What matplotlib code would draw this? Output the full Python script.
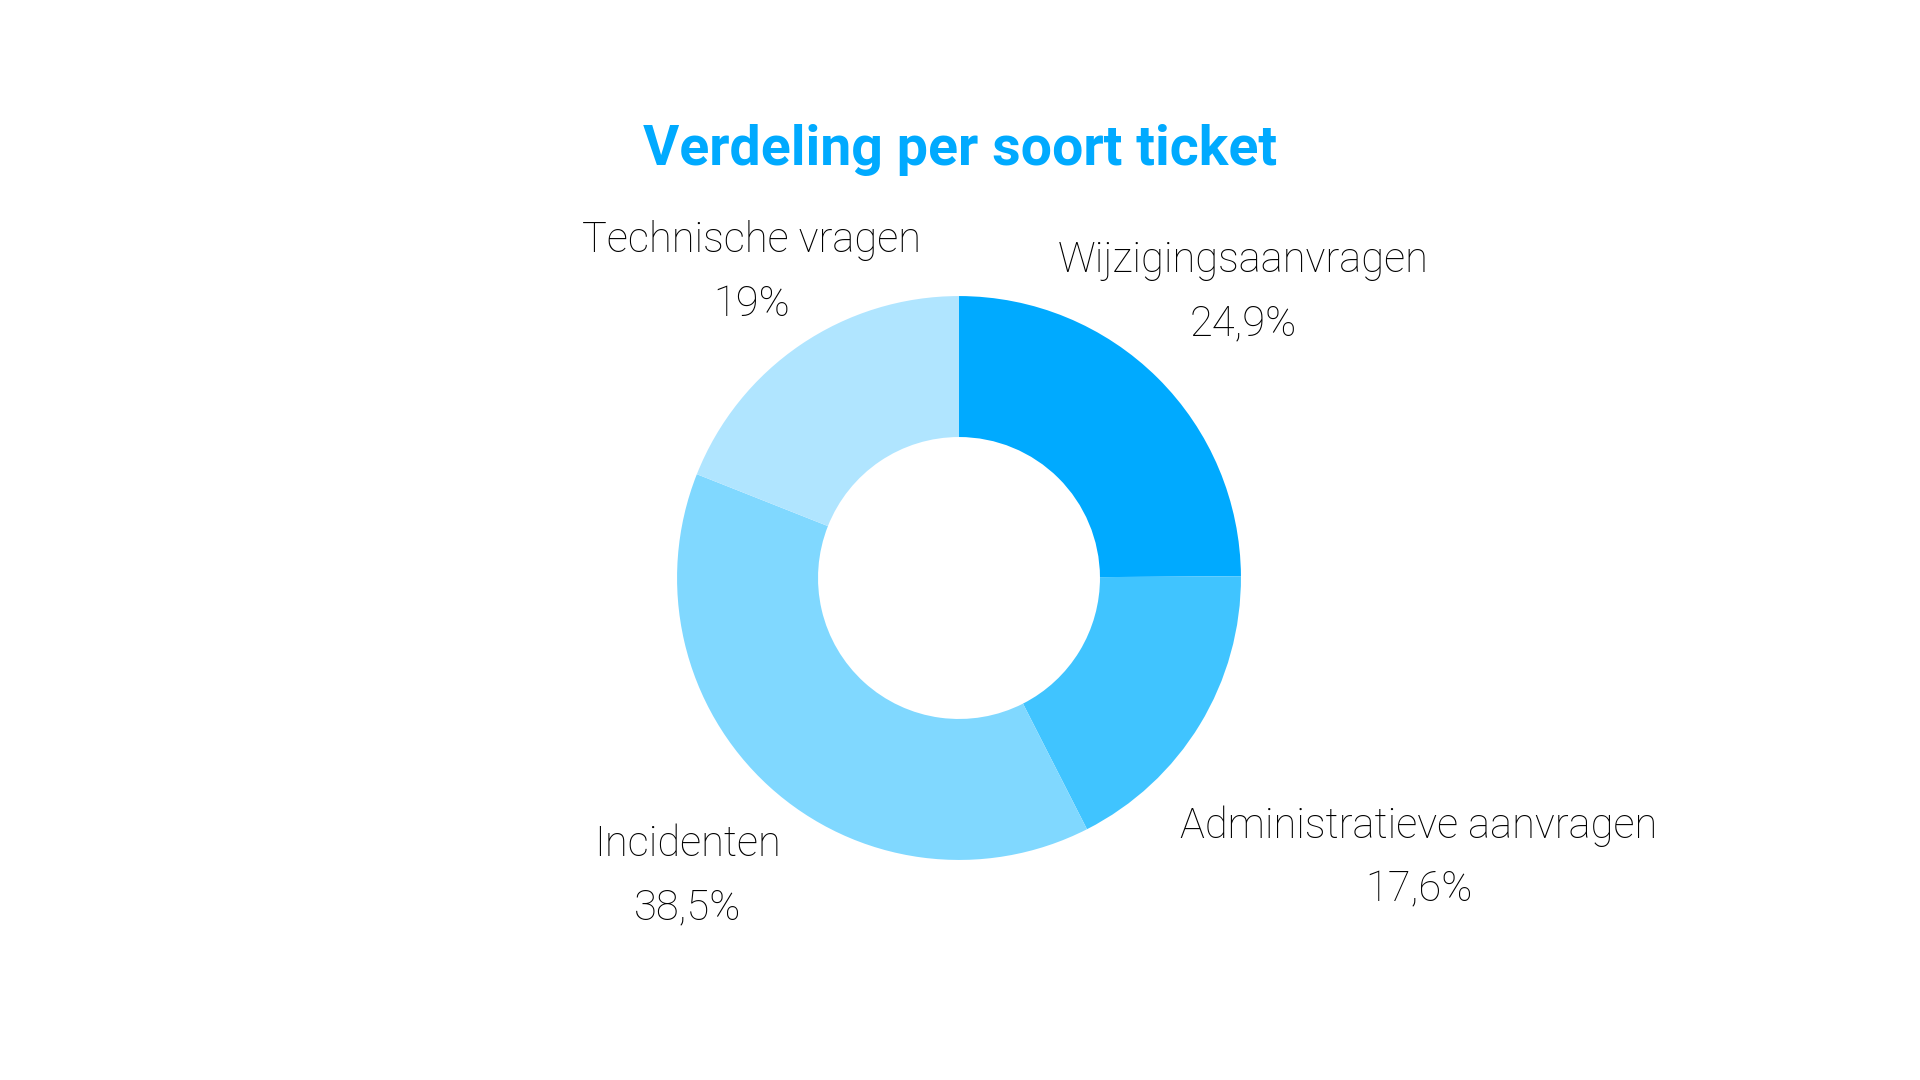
import matplotlib

matplotlib.use("Agg")
import matplotlib.pyplot as plt
import numpy as np

# Ticket share per type (percent), clockwise from 12 o'clock
categories = ["Wijzigingsaanvragen", "Administratieve aanvragen", "Incidenten", "Technische vragen"]
shares = [24.9, 17.6, 38.5, 19.0]
share_labels = ["24,9%", "17,6%", "38,5%", "19%"]
colors = ["#00AAFF", "#40C4FF", "#80D8FF", "#B0E5FF"]
label_dist = [1.43, 1.91, 1.43, 1.31]

fig = plt.figure(figsize=(19.2, 10.8), dpi=100)
fig.patch.set_facecolor("white")

# square axes centred on the donut (outer radius ~282 px)
size = 1015
cx, cy = 959, 578
ax = fig.add_axes([(cx - size / 2) / 1920, (1080 - cy - size / 2) / 1080, size / 1920, size / 1080])

wedges, _ = ax.pie(
    shares,
    colors=colors,
    startangle=90,
    counterclock=False,
    radius=1.0,
    wedgeprops=dict(width=0.5, edgecolor="none", linewidth=0),
)
ax.set_xlim(-1.8, 1.8)
ax.set_ylim(-1.8, 1.8)
ax.set_aspect("equal")
ax.axis("off")

for w, name, pct, d in zip(wedges, categories, share_labels, label_dist):
    mid = np.deg2rad((w.theta1 + w.theta2) / 2)
    x, y = d * np.cos(mid), d * np.sin(mid)
    ax.text(
        x, y, f"{name}\n{pct}",
        ha="center", va="center",
        fontsize=30, family="Roboto", fontweight="light",
        color="#000000", linespacing=1.7, clip_on=False,
    )

fig.text(
    0.5, 1 - 150 / 1080, "Verdeling per soort ticket",
    ha="center", va="center",
    fontsize=40, family="Roboto", fontweight="bold", color="#00AAFF",
)

fig.savefig("out.png", dpi=100, facecolor="white")
